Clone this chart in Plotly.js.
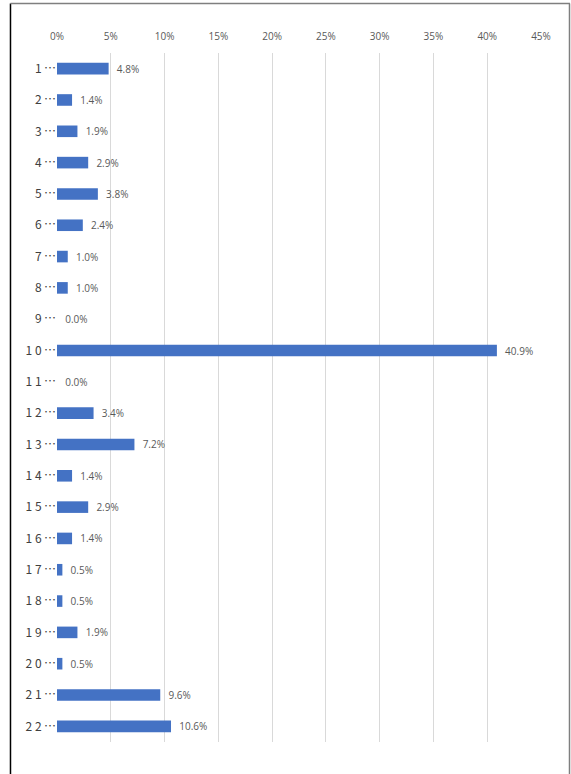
<!DOCTYPE html>
<html>
<head>
<meta charset="utf-8">
<script src="https://cdn.plot.ly/plotly-3.0.1.min.js"></script>
<style>
html,body{margin:0;padding:0;background:#fff;}
#chart{width:571px;height:774px;}
</style>
</head>
<body>
<div id="chart"></div>
<script>
var categories = ['1\u2009⋯','2\u2009⋯','3\u2009⋯','4\u2009⋯','5\u2009⋯','6\u2009⋯','7\u2009⋯','8\u2009⋯','9\u2009⋯','1 0\u2009⋯','1 1\u2009⋯','1 2\u2009⋯','1 3\u2009⋯','1 4\u2009⋯','1 5\u2009⋯','1 6\u2009⋯','1 7\u2009⋯','1 8\u2009⋯','1 9\u2009⋯','2 0\u2009⋯','2 1\u2009⋯','2 2\u2009⋯'];
var values = [4.8,1.4,1.9,2.9,3.8,2.4,1.0,1.0,0.0,40.9,0.0,3.4,7.2,1.4,2.9,1.4,0.5,0.5,1.9,0.5,9.6,10.6];
var tickVals = [0,5,10,15,20,25,30,35,40,45];
var tickText = ['0%','5%','10%','15%','20%','25%','30%','35%','40%','45%'];

var trace = {
  type:'bar',
  orientation:'h',
  x: values,
  y: categories,
  marker:{color:'#4472C4', line:{width:0}},
  texttemplate:'\u00a0\u00a0%{x:.1f}%',
  textposition:'outside',
  constraintext:'none',
  cliponaxis:false,
  textfont:{family:'Open Sans, Noto Sans, sans-serif', size:10, color:'#595959'},
  hoverinfo:'none'
};

var layout = {
  width:571, height:774,
  margin:{l:57, r:30, t:53, b:32},
  paper_bgcolor:'#ffffff',
  plot_bgcolor:'#ffffff',
  showlegend:false,
  bargap:0.63,
  font:{family:'Open Sans, Noto Sans, sans-serif'},
  xaxis:{
    side:'top',
    range:[0,45],
    tickvals:tickVals,
    ticktext:tickText,
    showgrid:true,
    gridcolor:'#D9D9D9',
    gridwidth:1,
    zeroline:false,
    showline:false,
    ticks:'outside',
    ticklen:8,
    tickcolor:'rgba(0,0,0,0)',
    tickfont:{family:'Open Sans, Noto Sans, sans-serif', size:10, color:'#595959'},
    fixedrange:true
  },
  yaxis:{
    autorange:'reversed',
    showgrid:false,
    zeroline:false,
    showline:false,
    ticks:'',
    ticklen:0,
    tickfont:{family:'Noto Sans CJK JP, Noto Sans, sans-serif', size:12, color:'#404040'},
    fixedrange:true
  },
  shapes:[
    {type:'line', xref:'paper', yref:'paper', x0:-0.0961, x1:-0.0961, y0:1.0718, y1:-0.06, line:{color:'#000000', width:1.5}},
    {type:'line', xref:'paper', yref:'paper', x0:-0.0961, x1:1.0599, y0:1.0718, y1:1.0718, line:{color:'#7F7F7F', width:1.5}},
    {type:'line', xref:'paper', yref:'paper', x0:1.0589, x1:1.0589, y0:1.0718, y1:-0.06, line:{color:'#7F7F7F', width:1.5}}
  ]
};

Plotly.newPlot('chart',[trace],layout,{displayModeBar:false, staticPlot:true});
</script>
</body>
</html>
